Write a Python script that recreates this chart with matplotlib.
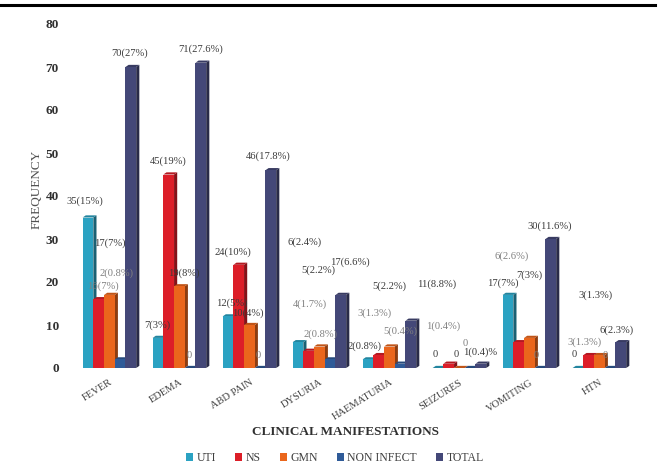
import numpy as np
import matplotlib
matplotlib.use("Agg")
import matplotlib.pyplot as plt
from matplotlib.lines import Line2D
from matplotlib.patches import Patch
import matplotlib.colors as mcolors
import matplotlib.transforms as mtransforms

plt.rcParams["font.family"] = ["Liberation Serif", "DejaVu Serif"]

# Data
categories = ["FEVER", "EDEMA", "ABD PAIN", "DYSURIA", "HAEMATURIA", "SEIZURES", "VOMITING", "HTN"]
series_names = ["UTI", "NS", "GMN", "NON INFECT", "TOTAL"]
uti = [35, 7, 12, 6, 2, 0, 17, 0]
ns = [16, 45, 24, 4, 3, 1, 6, 3]
gmn = [17, 19, 10, 5, 5, 0, 7, 3]
non_infect = [2, 0, 0, 2, 1, 0, 0, 0]
total = [70, 71, 46, 17, 11, 1, 30, 6]

# data labels as they sit on the chart: text, x (category units), y (frequency), dark/grey
labels = [
    ("70(27%)", 0.29, 72.0, "d"), ("35(15%)", -0.35, 37.6, "d"), ("17(7%)", 0.01, 27.9, "d"),
    ("2(0.8%)", 0.10, 20.9, "g"), ("16(7%)", -0.09, 18.0, "g"),
    ("71(27.6%)", 1.30, 73.0, "d"), ("45(19%)", 0.84, 46.9, "d"), ("19(8%)", 1.06, 20.9, "d"),
    ("7(3%)", 0.68, 8.9, "d"), ("0", 1.14, 1.8, "g"),
    ("46(17.8%)", 2.27, 48.1, "d"), ("24(10%)", 1.77, 25.7, "d"), ("12(5%)", 1.75, 14.0, "d"),
    ("10(4%)", 1.97, 11.6, "d"), ("0", 2.12, 1.8, "g"),
    ("6(2.4%)", 2.79, 28.1, "d"), ("17(6.6%)", 3.44, 23.4, "d"), ("5(2.2%)", 2.98, 21.7, "d"),
    ("4(1.7%)", 2.87, 13.7, "g"), ("2(0.8%)", 3.01, 6.7, "g"),
    ("5(2.2%)", 4.00, 18.0, "d"), ("3(1.3%)", 3.79, 11.6, "g"), ("5(0.4%)", 4.15, 7.5, "g"),
    ("2(0.8%)", 3.65, 3.9, "d"),
    ("11(8.8%)", 4.68, 18.4, "d"), ("1(0.4%)", 4.77, 8.5, "g"), ("0", 4.65, 2.0, "d"),
    ("0", 4.95, 2.0, "d"), ("0", 5.08, 4.6, "g"), ("1(0.4)%", 5.29, 2.6, "d"),
    ("30(11.6%)", 6.29, 31.8, "d"), ("6(2.6%)", 5.75, 24.8, "g"), ("17(7%)", 5.62, 18.6, "d"),
    ("7(3%)", 6.00, 20.4, "d"), ("0", 6.10, 1.8, "g"),
    ("3(1.3%)", 6.95, 15.7, "d"), ("6(2.3%)", 7.25, 7.7, "d"), ("3(1.3%)", 6.79, 4.8, "g"),
    ("0", 6.64, 2.0, "d"), ("0", 7.09, 1.8, "g"),
]

colors = ["#2ba2c2", "#dc1e28", "#ea661c", "#2f5b98", "#444878"]
text_dark = "#3a3a3a"
text_grey = "#808080"

fig = plt.figure(figsize=(6.58, 4.67), dpi=100)
ax = fig.add_axes([70 / 658, 99 / 467, 570 / 658, 344 / 467])

x = np.arange(len(categories))
bw = 0.153
dx, dy = 0.045, 0.5
all_series = [uti, ns, gmn, non_infect, total]


def shade(c, f):
    r, g, b = mcolors.to_rgb(c)
    return (r * f, g * f, b * f)


for s, vals in enumerate(all_series):
    xs = x + (s - 2) * bw
    for xi, h in zip(xs, vals):
        z = 2 + s * 0.1
        x0, x1 = xi - bw / 2, xi + bw / 2
        ax.bar(xi, h, width=bw, color=colors[s], zorder=z + 0.02, linewidth=0)
        # side face
        ax.fill([x1, x1 + dx, x1 + dx, x1], [0, dy, h + dy, h],
                color=shade(colors[s], 0.6), zorder=z, linewidth=0)
        # top face
        ax.fill([x0, x1, x1 + dx, x0 + dx], [h, h, h + dy, h + dy],
                color=shade(colors[s], 0.82), zorder=z + 0.01, linewidth=0)

for txt, lx, ly, tone in labels:
    ax.text(lx, ly, txt, ha="center", va="bottom", fontsize=7.6,
            color=text_dark if tone == "d" else text_grey, zorder=10)

ax.set_xlim(-0.563, 7.58)
ax.set_ylim(0, 80)
ax.set_yticks(range(0, 81, 10))
ax.set_xticks(x)
ax.set_xticklabels(categories, rotation=32, ha="right", va="top",
                   rotation_mode="anchor", fontsize=7.6, color="#404040")
shift = mtransforms.ScaledTranslation(-5 / 100, 0, fig.dpi_scale_trans)
for t in ax.get_xticklabels():
    t.set_transform(t.get_transform() + shift)
ax.tick_params(axis="x", length=0, pad=7)
ax.tick_params(axis="y", length=0, pad=8, labelsize=9.5, labelcolor="#303030")
for t in ax.get_yticklabels():
    t.set_fontweight("bold")
for sp in ax.spines.values():
    sp.set_visible(False)

ax.set_ylabel("FREQUENCY", fontsize=9.5, color="#505050")
ax.yaxis.set_label_coords(-0.048, 0.52)

fig.text(345 / 658, 1 - 432 / 467, "CLINICAL MANIFESTATIONS", ha="center", va="center",
         fontsize=9.5, fontweight="bold", color="#303030")

handles = [Patch(facecolor=c, edgecolor="none") for c in colors]
fig.legend(handles, series_names, loc="center", bbox_to_anchor=(335 / 658, 1 - 458 / 467),
           ncol=5, frameon=False, fontsize=8.5, handlelength=0.6, handleheight=0.6,
           handletextpad=0.3, columnspacing=1.6, labelcolor="#404040")

fig.add_artist(Line2D([0, 655 / 658], [1 - 5 / 467, 1 - 5 / 467], color="black", lw=2.2))

fig.savefig("out.png", dpi=100)
